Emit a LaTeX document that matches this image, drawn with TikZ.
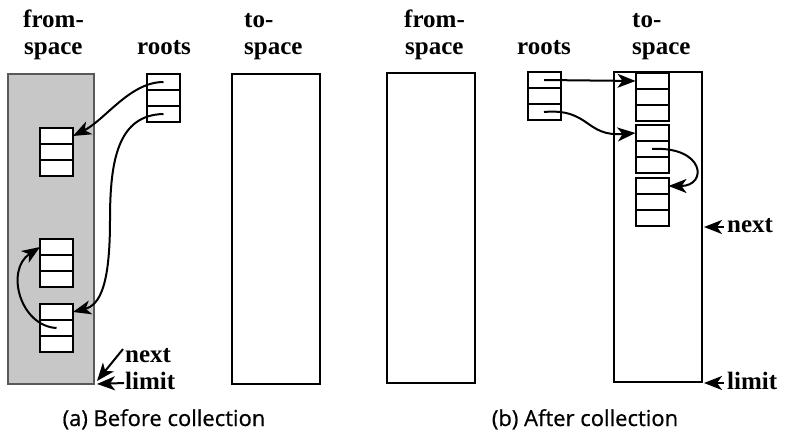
\documentclass[tikz,border=0pt]{standalone}
\usepackage{fontspec}
\setmainfont{Liberation Serif}
\newfontfamily\capfont[FakeBold=0.6]{Open Sans}
\usetikzlibrary{arrows.meta}
\begin{document}
\begin{tikzpicture}[x=1pt,y=-1pt,
  cell/.style={draw=black,line width=2pt,fill=white,minimum width=33pt,minimum height=16pt,inner sep=0pt,outer sep=0pt},
  spacebox/.style={draw=black,line width=2.4pt,fill=white,minimum width=88pt,minimum height=310pt,inner sep=0pt,outer sep=0pt},
  grayspace/.style={draw=black!65,line width=1.2pt,fill=black!22,minimum width=86pt,minimum height=310pt,inner sep=0pt,outer sep=0pt},
  lbl/.style={font=\bfseries\fontsize{25}{27}\selectfont,inner sep=0pt,anchor=base west},
  ptr/.style={line width=2pt,-{Stealth[length=18pt,width=14pt,inset=5pt]}},
  capt/.style={font=\capfont\fontsize{22}{24}\selectfont,inner sep=0pt,anchor=base}]
\useasboundingbox (0,0) rectangle (786,438);
% ---------- (a) before ----------
\node[grayspace] (fsA) at (51,229) {};
\node[spacebox] (tsA) at (276,229) {};
\node[cell] (rA1) at (163.5,82) {};
\node[cell] (rA2) at (163.5,98) {};
\node[cell] (rA3) at (163.5,114) {};
\node[cell] (oAa) at (56.5,136) {};
\node[cell] (oAb) at (56.5,152) {};
\node[cell] (oAc) at (56.5,168) {};
\node[cell] (oBa) at (56.5,247) {};
\node[cell] (oBb) at (56.5,263) {};
\node[cell] (oBc) at (56.5,279) {};
\node[cell] (oCa) at (56.5,312) {};
\node[cell] (oCb) at (56.5,328) {};
\node[cell] (oCc) at (56.5,344) {};
\draw[ptr] (rA1.center) .. controls (130,82) and (105,120) .. (oAa.east);
\draw[ptr] (rA3.center) .. controls (118,115) and (110,160) .. (110,220) .. controls (110,285) and (100,305) .. (oCa.east);
\draw[ptr] (oCb.center) .. controls (20,326) and (5,270) .. (oBa.west);
\node[lbl] (lfA1) at (23,28) {from-};
\node[lbl] (lfA2) at (24,55) {space};
\node[lbl] (lrA) at (137,55) {roots};
\node[lbl] (ltA1) at (244,28) {to-};
\node[lbl] (ltA2) at (244,55) {space};
\node[lbl] (lnA) at (125,362) {next};
\node[lbl] (llA) at (125,389) {limit};
\coordinate (nA) at (97,381);
\coordinate (lA) at (97,384);
\draw[ptr] (lnA.west) ++(-2,-6) coordinate (nAs) -- (nA);
\draw[ptr] (124,383) coordinate (lAs) -- (lA);
\node[capt] (capA) at (164,426) {(a) Before collection};
% ---------- (b) after ----------
\node[spacebox] (fsB) at (431,228) {};
\node[spacebox] (tsB) at (658,227) {};
\node[cell] (rB1) at (544,80) {};
\node[cell] (rB2) at (544,96) {};
\node[cell] (rB3) at (544,112) {};
\node[cell] (pAa) at (652,81) {};
\node[cell] (pAb) at (652,97) {};
\node[cell] (pAc) at (652,113) {};
\node[cell] (pBa) at (652,133) {};
\node[cell] (pBb) at (652,149) {};
\node[cell] (pBc) at (652,165) {};
\node[cell] (pCa) at (652,186) {};
\node[cell] (pCb) at (652,202) {};
\node[cell] (pCc) at (652,218) {};
\draw[ptr] (rB1.center) -- (pAa.west);
\draw[ptr] (rB3.center) .. controls (590,108) and (585,137) .. (pBa.west);
\draw[ptr] (pBb.center) .. controls (705,146) and (708,186) .. (pCa.east);
\node[lbl] (lfB1) at (404,28) {from-};
\node[lbl] (lfB2) at (405,55) {space};
\node[lbl] (lrB) at (517,55) {roots};
\node[lbl] (ltB1) at (632,28) {to-};
\node[lbl] (ltB2) at (632,55) {space};
\node[lbl] (lnB) at (727,233) {next};
\node[lbl] (llB) at (727,389) {limit};
\coordinate (nB) at (704,227);
\coordinate (lB) at (704,383);
\draw[ptr] (724,227) -- (nB);
\draw[ptr] (724,383) -- (lB);
\node[capt] (capB) at (585,426) {(b) After collection};
\end{tikzpicture}
\end{document}
